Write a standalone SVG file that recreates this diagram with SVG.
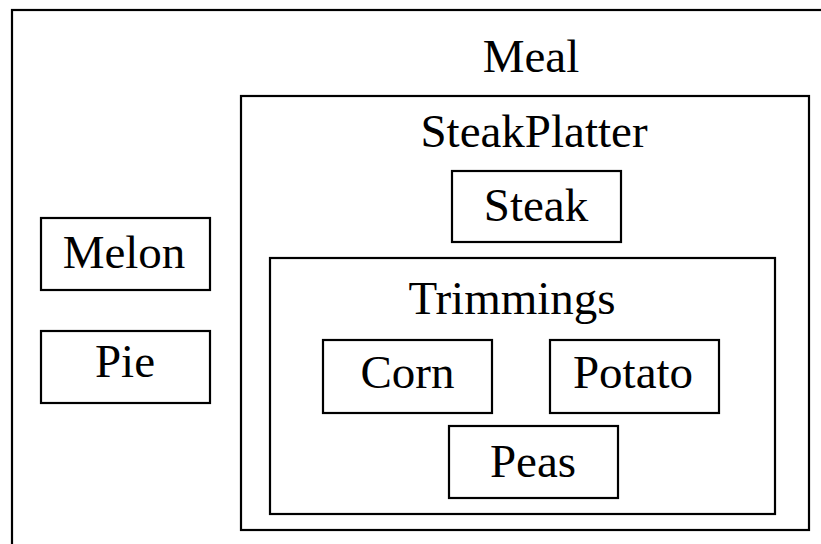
<svg xmlns="http://www.w3.org/2000/svg" width="821" height="544" viewBox="0 0 821 544">
<style>
.box{fill:none;stroke:#000;stroke-width:2.2}
.lbl{font-family:"Liberation Serif","Times New Roman",serif;font-size:47px;fill:#000;text-anchor:middle}
</style>
<rect x="0" y="0" width="821" height="544" fill="#fff"/>
<g id="Meal">
<rect class="box" x="12" y="10" width="840" height="580"/>
<text class="lbl" x="531" y="72">Meal</text>
</g>
<g id="Melon">
<rect class="box" x="41" y="218" width="169" height="72"/>
<text class="lbl" x="124" y="268">Melon</text>
</g>
<g id="Pie">
<rect class="box" x="41" y="331" width="169" height="72"/>
<text class="lbl" x="125" y="377">Pie</text>
</g>
<g id="SteakPlatter">
<rect class="box" x="241" y="96" width="568" height="434"/>
<text class="lbl" x="534" y="147">SteakPlatter</text>
</g>
<g id="Steak">
<rect class="box" x="452" y="171" width="169" height="71"/>
<text class="lbl" x="536" y="221">Steak</text>
</g>
<g id="Trimmings">
<rect class="box" x="270" y="258" width="505" height="256"/>
<text class="lbl" x="512" y="314">Trimmings</text>
</g>
<g id="Corn">
<rect class="box" x="323" y="340" width="169" height="73"/>
<text class="lbl" x="407.5" y="388">Corn</text>
</g>
<g id="Potato">
<rect class="box" x="550" y="340" width="169" height="73"/>
<text class="lbl" x="633" y="388">Potato</text>
</g>
<g id="Peas">
<rect class="box" x="449" y="426" width="169" height="72"/>
<text class="lbl" x="533" y="477">Peas</text>
</g>
<g id="connectors"></g>
</svg>
